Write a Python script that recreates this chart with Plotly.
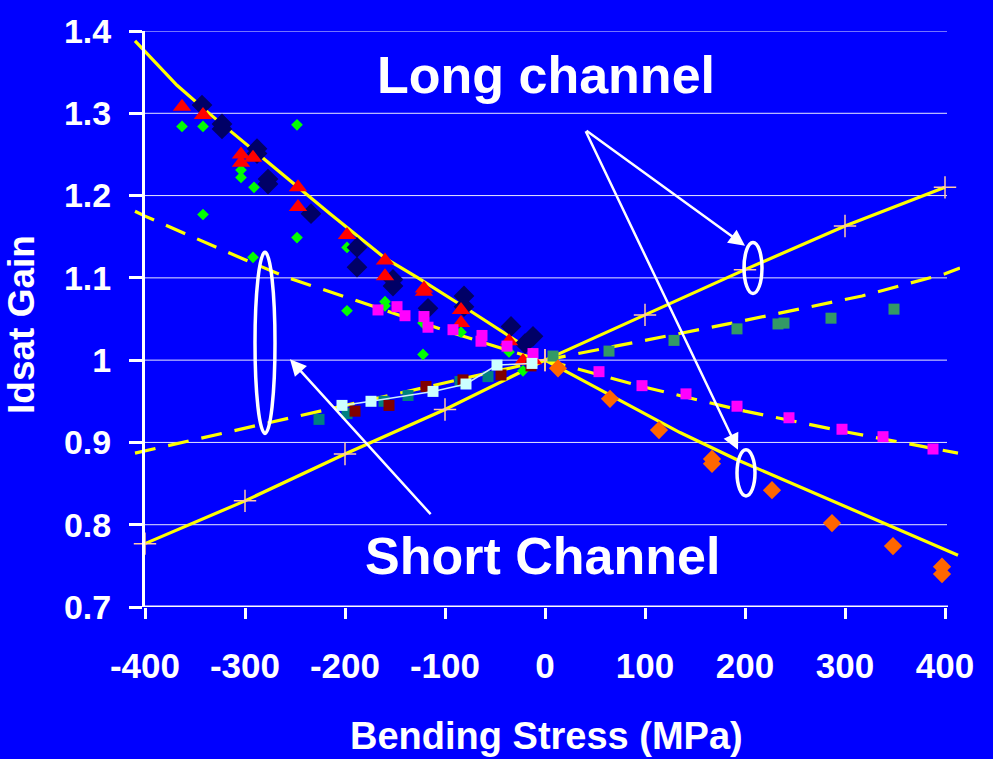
import plotly.graph_objects as go

# ---------------- data ----------------
# Long channel fits (solid yellow lines)
long_neg_fit_x = [-410, -368, -335, -215, -160, -127, -75, -28, -10]
long_neg_fit_y = [1.388, 1.334, 1.299, 1.178, 1.124, 1.100, 1.060, 1.023, 1.010]
long_pos_down_x = [0, 135, 192, 342, 413]
long_pos_down_y = [1.0, 0.912, 0.879, 0.800, 0.763]
long_up_x = [0, 100, 200, 300, 400]            # "+" series, positive stress
long_up_y = [1.0, 1.055, 1.11, 1.163, 1.21]
long_down_x = [-400, -300, -200, -100, 0]      # "+" series, negative stress
long_down_y = [0.777, 0.829, 0.886, 0.940, 1.0]

# Short channel fits (dashed yellow lines)
short_neg_up_x = [-410, -400, -300, -257, -200, -100, 0]
short_neg_up_y = [1.181, 1.175, 1.122, 1.100, 1.077, 1.036, 0.998]
short_neg_down_x = [-410, 0]
short_neg_down_y = [0.887, 1.0]
short_pos_up_x = [0, 183, 317, 400, 415]
short_pos_up_y = [1.0, 1.044, 1.078, 1.105, 1.112]
short_pos_down_x = [0, 100, 200, 300, 413]
short_pos_down_y = [1.0, 0.967, 0.938, 0.913, 0.887]

# Measured points
red_tri_x = [-363, -342, -304, -304, -292, -247, -247, -198, -160, -160, -121, -121, -84, -84, -36, -22, -12]
red_tri_y = [1.308, 1.298, 1.250, 1.240, 1.246, 1.210, 1.186, 1.152, 1.121, 1.102, 1.087, 1.083, 1.061, 1.045, 1.023, 0.999, 1.000]

navy_x = [-343, -323, -323, -288, -288, -277, -277, -234, -188, -188, -152, -152, -117, -81, -81, -34, -20, -12]
navy_y = [1.310, 1.287, 1.281, 1.257, 1.251, 1.220, 1.214, 1.178, 1.137, 1.113, 1.098, 1.090, 1.063, 1.078, 1.065, 1.041, 1.020, 1.029]

lime_x = [-363, -342, -248, -304, -304, -291, -342, -248, -198, -292, -198, -160, -160, -122, -122, -84, -36, -22]
lime_y = [1.284, 1.284, 1.286, 1.231, 1.222, 1.210, 1.177, 1.149, 1.137, 1.125, 1.060, 1.071, 1.066, 1.045, 1.007, 1.034, 1.010, 0.987]

mag_neg_x = [-167, -148, -140, -121, -117, -92, -63, -64, -38, -12]
mag_neg_y = [1.061, 1.065, 1.054, 1.053, 1.040, 1.037, 1.030, 1.023, 1.017, 1.008]
mag_pos_x = [54, 97, 141, 192, 244, 297, 338, 388]
mag_pos_y = [0.986, 0.969, 0.959, 0.944, 0.930, 0.916, 0.907, 0.892]

sea_x = [8, 64, 129, 192, 233, 239, 286, 349]
sea_y = [1.005, 1.011, 1.024, 1.038, 1.044, 1.045, 1.051, 1.062]

orange_x = [13, 65, 114, 167, 167, 227, 287, 348, 397, 397]
orange_y = [0.990, 0.953, 0.915, 0.880, 0.874, 0.842, 0.802, 0.774, 0.749, 0.740]

teal_x = [-226, -198, -161, -137, -85, -57]
teal_y = [0.928, 0.935, 0.950, 0.957, 0.974, 0.980]
maroon_x = [-190, -156, -119, -82, -44, -14]
maroon_y = [0.938, 0.945, 0.968, 0.976, 0.982, 0.993]
cyan_x = [-203, -174, -112, -79, -48, -13]
cyan_y = [0.945, 0.950, 0.962, 0.971, 0.994, 0.996]

x_ticks = [-400, -300, -200, -100, 0, 100, 200, 300, 400]
x_tick_text = ["-400", "-300", "-200", "-100", "0", "100", "200", "300", "400"]
y_ticks = [0.7, 0.8, 0.9, 1.0, 1.1, 1.2, 1.3, 1.4]
y_tick_text = ["0.7", "0.8", "0.9", "1", "1.1", "1.2", "1.3", "1.4"]

# ---------------- figure ----------------
BLUE = "#0000FF"
YEL = "#FFFF00"
FONT = "Liberation Sans, Arial, sans-serif"
DASH = "21px,13px"

fig = go.Figure()

def line(x, y, dash="solid"):
    fig.add_trace(go.Scatter(x=x, y=y, mode="lines",
                             line=dict(color=YEL, width=3.2, dash=dash),
                             hoverinfo="skip", showlegend=False))

line(long_neg_fit_x, long_neg_fit_y)
line(long_pos_down_x, long_pos_down_y)
line(short_neg_up_x, short_neg_up_y, DASH)
line(short_neg_down_x, short_neg_down_y, DASH)
line(short_pos_up_x, short_pos_up_y, DASH)
line(short_pos_down_x, short_pos_down_y, DASH)

for xs, ys in [(long_up_x, long_up_y), (long_down_x, long_down_y)]:
    fig.add_trace(go.Scatter(x=xs, y=ys, mode="lines+markers",
                             line=dict(color=YEL, width=3.2),
                             marker=dict(symbol="cross-thin", size=16,
                                         line=dict(color="#FFC8A8", width=1.5)),
                             showlegend=False))

def pts(x, y, sym, size, color, mode="markers", lcolor=None):
    fig.add_trace(go.Scatter(x=x, y=y, mode=mode,
                             marker=dict(symbol=sym, size=size, color=color,
                                         line=dict(width=0)),
                             line=dict(color=lcolor or color, width=1.5),
                             showlegend=False))

pts(lime_x, lime_y, "diamond", 9, "#00FF00")
pts(navy_x, navy_y, "diamond", 16, "#000066")
pts(red_tri_x, red_tri_y, "triangle-up", 16, "#FF0000")
pts(mag_neg_x, mag_neg_y, "square", 11, "#FF00FF")
pts(mag_pos_x, mag_pos_y, "square", 11, "#FF00FF")
pts(sea_x, sea_y, "square", 11, "#339966")
pts(orange_x, orange_y, "diamond", 14, "#FF6600")
pts(teal_x, teal_y, "square", 11, "#008080")
pts(maroon_x, maroon_y, "square", 11, "#800000")
pts(cyan_x, cyan_y, "square", 11, "#CCFFFF", mode="lines+markers", lcolor="#CCEEFF")

# gridlines and axis lines as shapes (they stop at the axis, lines overshoot)
shapes = []
for yv in y_ticks[1:]:
    shapes.append(dict(type="line", xref="x", yref="y", x0=-402, x1=402, y0=yv, y1=yv,
                       line=dict(color="#E8E8FF", width=1), layer="below"))
shapes.append(dict(type="line", xref="x", yref="y", x0=-402, x1=403, y0=0.7, y1=0.7,
                   line=dict(color="white", width=3)))
# ellipses
for (x0, x1, y0, y1) in [(199, 217, 1.081, 1.143), (192, 210, 0.835, 0.891), (-290, -270, 0.911, 1.131)]:
    shapes.append(dict(type="circle", xref="x", yref="y", x0=x0, x1=x1, y0=y0, y1=y1,
                       line=dict(color="white", width=3.5)))

annotations = [
    dict(x=1, y=1.347, xref="x", yref="y", text="Long channel", showarrow=False,
         font=dict(family=FONT, size=52, color="white", weight="bold")),
    dict(x=-3, y=0.762, xref="x", yref="y", text="Short Channel", showarrow=False,
         font=dict(family=FONT, size=52, color="white", weight="bold")),
    dict(x=-0.134, y=0.49, xref="paper", yref="paper", xanchor="center", yanchor="middle",
         text="Idsat Gain", textangle=-90,
         showarrow=False, font=dict(family=FONT, size=37, color="white", weight="bold")),
    dict(x=0.5, y=-0.224, xref="paper", yref="paper", xanchor="center", yanchor="middle",
         text="Bending Stress (MPa)",
         showarrow=False, font=dict(family=FONT, size=38, color="white", weight="bold")),
]
for (hx, hy, tx, ty) in [(200, 1.139, 40, 1.280), (193, 0.891, 40, 1.280), (-255, 1.001, -113, 0.811)]:
    annotations.append(dict(x=hx, y=hy, ax=tx, ay=ty, xref="x", yref="y", axref="x", ayref="y",
                            text="", showarrow=True, arrowhead=2, arrowsize=1.3,
                            arrowwidth=2.5, arrowcolor="white", standoff=0, startstandoff=0))

fig.update_layout(
    width=993, height=759,
    margin=dict(l=133, r=33, t=23, b=152),
    paper_bgcolor=BLUE, plot_bgcolor=BLUE,
    shapes=shapes, annotations=annotations,
    showlegend=False,
    xaxis=dict(range=[-412, 415], tickvals=x_ticks, ticktext=x_tick_text,
               showgrid=False, zeroline=False,
               showline=False, ticks="outside", ticklen=11, tickwidth=3, tickcolor="white",
               ticklabelstandoff=17,
               tickfont=dict(family=FONT, size=35, color="white", weight="bold")),
    yaxis=dict(range=[0.7, 1.4], tickvals=y_ticks, ticktext=y_tick_text,
               showgrid=False, zeroline=False, anchor="free", position=10 / 827,
               showline=True, linecolor="white", linewidth=3,
               ticks="outside", ticklen=13, tickwidth=3, tickcolor="white",
               ticklabelstandoff=11,
               tickfont=dict(family=FONT, size=34, color="white", weight="bold")),
)

fig.write_html("out.html", config={"displayModeBar": False},
               post_script="document.body.style.margin='0';")
